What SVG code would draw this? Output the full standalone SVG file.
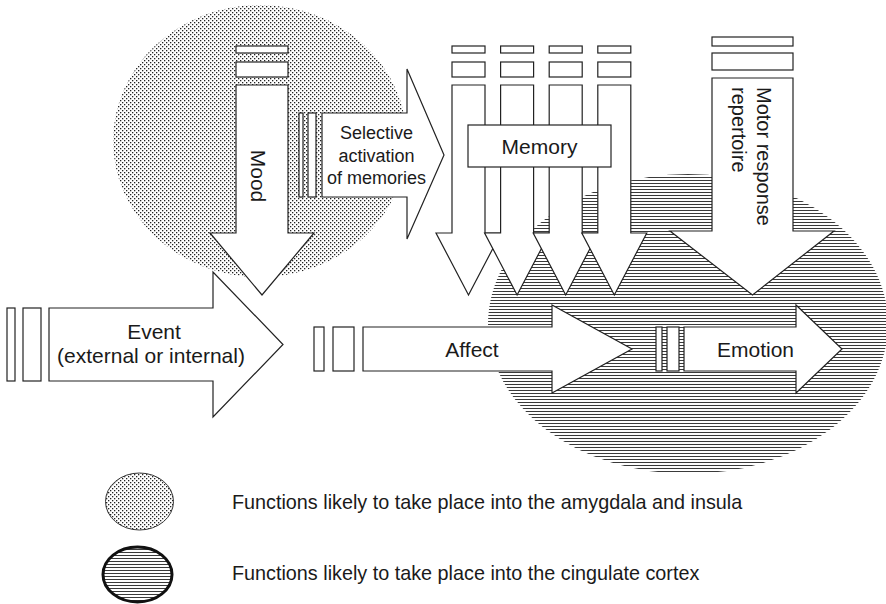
<svg xmlns="http://www.w3.org/2000/svg" width="886" height="604" viewBox="0 0 886 604">
<defs>
<pattern id="dots" width="4" height="4" patternUnits="userSpaceOnUse"><rect width="4" height="4" fill="#fff"/><rect x="0" y="0" width="1.3" height="1.3" fill="#222"/><rect x="2" y="2" width="1.3" height="1.3" fill="#222"/></pattern>
<pattern id="stripes" width="4" height="3" patternUnits="userSpaceOnUse"><rect width="4" height="3" fill="#fff"/><rect y="0" width="4" height="1" fill="#3a3a3a"/></pattern>
</defs>
<style>
.a{fill:#fff;stroke:#222;stroke-width:1.2;stroke-linejoin:miter}
.t{font-family:"Liberation Sans",Arial,sans-serif;fill:#1a1a1a}
.c{text-anchor:middle}
</style>
<g id="regions">
<ellipse id="amygdala-region" cx="260" cy="141" rx="147" ry="136" fill="url(#dots)"/>
<ellipse id="cingulate-region" cx="688" cy="324" rx="200" ry="150" fill="url(#stripes)"/>
</g>
<g id="connectors">
<g id="mood">
<rect class="a" x="236" y="46" width="52" height="7"/>
<rect class="a" x="236" y="62" width="52" height="15"/>
<polygon class="a" points="236,85 288,85 288,233 314,233 262,295 210,233 236,233"/>
<text class="t c" font-size="21" transform="translate(262,176) rotate(90)" x="0" y="11">Mood</text>
</g>
<g id="selective">
<rect class="a" x="299" y="113" width="4" height="84"/>
<rect class="a" x="308" y="113" width="8" height="84"/>
<polygon class="a" points="322,113 407,113 407,69 444,155 407,239 407,197 322,197"/>
<text class="t c" font-size="18"><tspan x="376.5" y="139">Selective</tspan><tspan x="376.5" y="161.5">activation</tspan><tspan x="376.5" y="184">of memories</tspan></text>
</g>
<g id="memory-arrows">
<g id="mem1"><rect class="a" x="452" y="46" width="33" height="7"/><rect class="a" x="452" y="62" width="33" height="15"/><polygon class="a" points="452,85 485,85 485,233 501,233 468.5,295 436,233 452,233"/></g>
<g id="mem2"><rect class="a" x="500.6" y="46" width="33" height="7"/><rect class="a" x="500.6" y="62" width="33" height="15"/><polygon class="a" points="500.6,85 533.6,85 533.6,233 549.6,233 517.1,295 484.6,233 500.6,233"/></g>
<g id="mem3"><rect class="a" x="549.2" y="46" width="33" height="7"/><rect class="a" x="549.2" y="62" width="33" height="15"/><polygon class="a" points="549.2,85 582.2,85 582.2,233 598.2,233 565.7,295 533.2,233 549.2,233"/></g>
<g id="mem4"><rect class="a" x="597.8" y="46" width="33" height="7"/><rect class="a" x="597.8" y="62" width="33" height="15"/><polygon class="a" points="597.8,85 630.8,85 630.8,233 646.8,233 614.3,295 581.8,233 597.8,233"/></g>
</g>
<g id="motor">
<rect class="a" x="712" y="37" width="81" height="9"/>
<rect class="a" x="712" y="53" width="81" height="17"/>
<polygon class="a" points="712,78 793,78 793,231 834,231 752.5,295 670,231 712,231"/>
<text class="t" font-size="20" transform="translate(757,87) rotate(90)"><tspan x="0" y="0">Motor response</tspan><tspan x="0" y="25">repertoire</tspan></text>
</g>
<g id="event">
<rect class="a" x="7" y="308" width="8" height="73"/>
<rect class="a" x="23" y="308" width="18" height="73"/>
<polygon class="a" points="49,308 213,308 213,272 283,344.5 213,417 213,381 49,381"/>
<text class="t c" font-size="21"><tspan x="154" y="339">Event</tspan><tspan x="151" y="363">(external or internal)</tspan></text>
</g>
<g id="affect">
<rect class="a" x="314" y="327" width="10" height="44"/>
<rect class="a" x="333" y="327" width="21" height="44"/>
<polygon class="a" points="363,327 552,327 552,305 632,349 552,393 552,371 363,371"/>
<text class="t c" font-size="21" x="472" y="357">Affect</text>
</g>
<g id="emotion">
<rect class="a" x="656" y="327" width="6" height="44"/>
<rect class="a" x="667" y="327" width="12" height="44"/>
<polygon class="a" points="684,327 796,327 796,305 842,349 796,393 796,371 684,371"/>
<text class="t c" font-size="21" x="755.5" y="357">Emotion</text>
</g>
</g>
<g id="memory">
<rect class="a" x="468" y="125" width="143" height="42"/>
<text class="t c" font-size="21" x="539.5" y="154">Memory</text>
</g>
<g id="legend">
<g id="legend-amygdala">
<ellipse cx="139.5" cy="501.5" rx="34" ry="28.5" fill="url(#dots)" stroke="#333" stroke-width="1"/>
<text class="t" font-size="19.8" x="232" y="509">Functions likely to take place into the amygdala and insula</text>
</g>
<g id="legend-cingulate">
<ellipse cx="137.5" cy="574.5" rx="34.5" ry="27.5" fill="url(#stripes)" stroke="#111" stroke-width="3"/>
<text class="t" font-size="19.8" x="232" y="580">Functions likely to take place into the cingulate cortex</text>
</g>
</g>
</svg>
